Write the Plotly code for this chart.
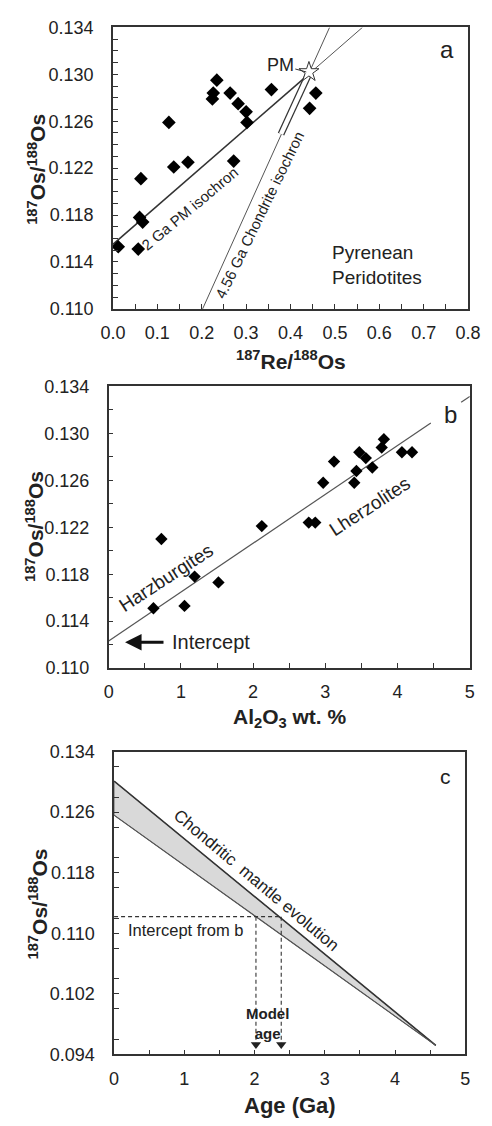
import plotly.graph_objects as go

FONT = "Liberation Sans, Arial, sans-serif"
INK = "#222222"

# ---------------- Panel a data ----------------
re_os = [0.063, 0.126, 0.137, 0.169, 0.224, 0.226, 0.234, 0.264, 0.282, 0.300,
         0.302, 0.272, 0.357, 0.457, 0.443, 0.012, 0.057, 0.060, 0.067]
os_a = [0.1211, 0.1259, 0.1221, 0.1225, 0.1279, 0.1284, 0.1295, 0.1284, 0.1275, 0.1268,
        0.1259, 0.1226, 0.1287, 0.1284, 0.1271, 0.1153, 0.1151, 0.1178, 0.1174]
pm_x = [0.4415]
pm_y = [0.1302]
pm_box_x = [0.3786, 0.4394]
pm_box_y = [0.1249, 0.1299]
iso2_thick_x = [0.0, 0.44]
iso2_thick_y = [0.1155, 0.12998]
iso2_thin_x = [0.44, 0.562]
iso2_thin_y = [0.12998, 0.134]
chond_x = [0.202, 0.488]
chond_y = [0.110, 0.134]

# ---------------- Panel b data ----------------
al2o3 = [0.73, 0.62, 1.05, 1.19, 1.52, 2.12, 2.77, 2.86, 2.97, 3.12,
         3.40, 3.43, 3.47, 3.56, 3.65, 3.78, 3.81, 4.06, 4.20]
os_b = [0.1210, 0.1151, 0.1153, 0.1178, 0.1173, 0.1221, 0.1224, 0.1224, 0.1258, 0.1276,
        0.1258, 0.1268, 0.1284, 0.1279, 0.1271, 0.1288, 0.1295, 0.1284, 0.1284]
reg_intercept = 0.1123
reg_slope = 0.00417
reg_seg1 = [0.0, 4.46]
reg_seg2 = [4.88, 5.0]

# ---------------- Panel c data ----------------
band_age = [0.0, 4.58]
band_upper = [0.1301, 0.0952]
band_lower = [0.1256, 0.0952]
intercept_b = 0.1122
model_ages = [2.02, 2.38]

fig = go.Figure()

# ---- panel a traces
fig.add_trace(go.Scatter(x=iso2_thick_x, y=iso2_thick_y, mode="lines",
                         line=dict(color="#333333", width=1.6), xaxis="x", yaxis="y"))
fig.add_trace(go.Scatter(x=iso2_thin_x, y=iso2_thin_y, mode="lines",
                         line=dict(color="#555555", width=1), xaxis="x", yaxis="y"))
fig.add_trace(go.Scatter(x=chond_x, y=chond_y, mode="lines",
                         line=dict(color="#555555", width=1), xaxis="x", yaxis="y"))
fig.add_trace(go.Scatter(x=pm_box_x, y=pm_box_y, mode="lines",
                         line=dict(color="#333333", width=7), xaxis="x", yaxis="y"))
fig.add_trace(go.Scatter(x=pm_box_x, y=pm_box_y, mode="lines",
                         line=dict(color="white", width=4.5), xaxis="x", yaxis="y"))
fig.add_trace(go.Scatter(x=re_os, y=os_a, mode="markers",
                         marker=dict(symbol="diamond", size=10.5, color="black"),
                         xaxis="x", yaxis="y"))
fig.add_trace(go.Scatter(x=pm_x, y=pm_y, mode="markers",
                         marker=dict(symbol="star", size=15, color="white",
                                     line=dict(color="#333333", width=1)),
                         xaxis="x", yaxis="y", cliponaxis=False))

# ---- panel b traces
for seg in (reg_seg1, reg_seg2):
    fig.add_trace(go.Scatter(x=seg, y=[reg_intercept + reg_slope * v for v in seg], mode="lines",
                             line=dict(color="#555555", width=1.2), xaxis="x2", yaxis="y2"))
fig.add_trace(go.Scatter(x=al2o3, y=os_b, mode="markers",
                         marker=dict(symbol="diamond", size=9.5, color="black"),
                         xaxis="x2", yaxis="y2"))

# ---- panel c traces
fig.add_trace(go.Scatter(x=[band_age[0], band_age[1], band_age[0], band_age[0]],
                         y=[band_upper[0], band_upper[1], band_lower[0], band_upper[0]],
                         mode="lines", fill="toself", fillcolor="#d9d9d9",
                         line=dict(color="#666666", width=1), xaxis="x3", yaxis="y3"))
fig.add_trace(go.Scatter(x=band_age, y=band_upper, mode="lines",
                         line=dict(color="#333333", width=1.6), xaxis="x3", yaxis="y3"))
fig.add_trace(go.Scatter(x=band_age, y=band_lower, mode="lines",
                         line=dict(color="#555555", width=1.1), xaxis="x3", yaxis="y3"))
fig.add_trace(go.Scatter(x=[0, max(model_ages)], y=[intercept_b, intercept_b], mode="lines",
                         line=dict(color="#333333", width=1.1, dash="4px,3px"),
                         xaxis="x3", yaxis="y3"))
for a in model_ages:
    fig.add_trace(go.Scatter(x=[a, a], y=[intercept_b, 0.0953], mode="lines",
                             line=dict(color="#333333", width=1.1, dash="4px,3px"),
                             xaxis="x3", yaxis="y3"))
fig.add_trace(go.Scatter(x=model_ages, y=[0.0953, 0.0953], mode="markers",
                         marker=dict(symbol="triangle-down", size=9, color="#222222"),
                         xaxis="x3", yaxis="y3", cliponaxis=False))

# ---- axes
def xax(domain, anchor, rng, dtick, minor, fmt):
    return dict(domain=domain, anchor=anchor, range=rng, dtick=dtick, tick0=0,
                tickformat=fmt, ticks="inside", ticklen=5, tickwidth=1, tickcolor="#333333",
                minor=dict(ticks="inside", dtick=minor, ticklen=5, tickwidth=1, tickcolor="#333333"),
                showline=True, linecolor="#333333", linewidth=1.5, mirror=True,
                showgrid=False, zeroline=False, ticklabelstandoff=7,
                tickfont=dict(family=FONT, size=18, color=INK))

def yax(domain, anchor, rng, dtick, minor):
    return dict(domain=domain, anchor=anchor, range=rng, dtick=dtick, tick0=0.094,
                tickformat=".3f", ticks="inside", ticklen=5, tickwidth=1, tickcolor="#333333",
                minor=dict(ticks="inside", dtick=minor, ticklen=5, tickwidth=1, tickcolor="#333333"),
                showline=True, linecolor="#333333", linewidth=1.5, mirror=True,
                showgrid=False, zeroline=False, ticklabelstandoff=14,
                tickfont=dict(family=FONT, size=18, color=INK))

H = 1126.0
W = 492.0
fig.update_layout(
    width=492, height=1126, margin=dict(l=0, r=0, t=0, b=0),
    paper_bgcolor="white", plot_bgcolor="white", showlegend=False,
    xaxis=xax([105.5 / W, 480.5 / W], "y", [0, 0.8], 0.1, 0.05, ".1f"),
    yaxis=yax([(H - 304.3) / H, (H - 17.7) / H], "x", [0.110, 0.134], 0.004, 0.001),
    xaxis2=xax([101 / W, 482.3 / W], "y2", [0, 5], 1, 0.5, "d"),
    yaxis2=yax([(H - 670) / H, (H - 383.3) / H], "x2", [0.110, 0.134], 0.004, 0.002),
    xaxis3=xax([106.7 / W, 477.5 / W], "y3", [0, 5], 1, 0.5, "d"),
    yaxis3=yax([(H - 1063.3) / H, (H - 755) / H], "x3", [0.094, 0.134], 0.008, 0.004),
)

ann = []
def txt(x, y, text, xref, yref, size, angle=0, bold=False, xanchor="center", align="center", bg=None):
    d = dict(x=x, y=y, xref=xref, yref=yref, text=("<b>%s</b>" % text) if bold else text,
             showarrow=False, textangle=angle, xanchor=xanchor, yanchor="middle", align=align,
             font=dict(family=FONT, size=size, color=INK))
    if bg:
        d["bgcolor"] = bg
    ann.append(d)

# axis titles (paper coordinates)
def px(xp):
    return xp / W
def py(yp):
    return (H - yp) / H

txt(px(293), py(356.7), "<sup>187</sup>Re/<sup>188</sup>Os", "paper", "paper", 21, bold=True)
txt(px(25), py(162), "<sup>187</sup>Os/<sup>188</sup>Os", "paper", "paper", 21, angle=-90, bold=True)
txt(px(292), py(721), "Al<sub>2</sub>O<sub>3</sub> wt. %", "paper", "paper", 21, bold=True)
txt(px(22.5), py(526), "<sup>187</sup>Os/<sup>188</sup>Os", "paper", "paper", 21, angle=-90, bold=True)
txt(px(292), py(1115), "Age (Ga)", "paper", "paper", 22, bold=True)
txt(px(26), py(910), "<sup>187</sup>Os/<sup>188</sup>Os", "paper", "paper", 21, angle=-90, bold=True)

# panel a
txt(0.752, 0.1321, "a", "x", "y", 24)
txt(0.488, 0.11375, "Pyrenean<br>Peridotites", "x", "y", 19, xanchor="left", align="left")
txt(0.1734, 0.11853, "2 Ga PM isochron", "x", "y", 15, angle=-40)
txt(0.331, 0.11802, "4.56 Ga Chondrite isochron", "x", "y", 15, angle=-64)
ann.append(dict(x=pm_x[0] - 0.006, y=pm_y[0], xref="x", yref="y", text="PM", showarrow=True,
                arrowhead=0, arrowwidth=1, arrowcolor="#333333", ax=-26, ay=-7,
                font=dict(family=FONT, size=18, color=INK)))

# panel b
txt(4.73, 0.1316, "b", "x2", "y2", 24)
txt(0.796, 0.11775, "Harzburgites", "x2", "y2", 19, angle=-33)
txt(3.613, 0.12375, "Lherzolites", "x2", "y2", 19, angle=-33)
ann.append(dict(x=0.227, y=intercept_b, xref="x2", yref="y2", ax=0.78, ay=intercept_b,
                axref="x2", ayref="y2", text="", showarrow=True, arrowhead=2, arrowsize=1.1,
                arrowwidth=3, arrowcolor="#111111"))
txt(0.848, intercept_b, "Intercept", "x2", "y2", 20, xanchor="left")

# panel c
txt(4.72, 0.13076, "c", "x3", "y3", 21)
txt(2.024, 0.11691, "Chondritic  mantle evolution", "x3", "y3", 17, angle=40)
txt(0.166, 0.11043, "Intercept from b", "x3", "y3", 16.5, xanchor="left")
txt(2.18, 0.09806, "Model<br>age", "x3", "y3", 15, bold=True)

fig.update_layout(annotations=ann)
fig.write_html("out.html")
